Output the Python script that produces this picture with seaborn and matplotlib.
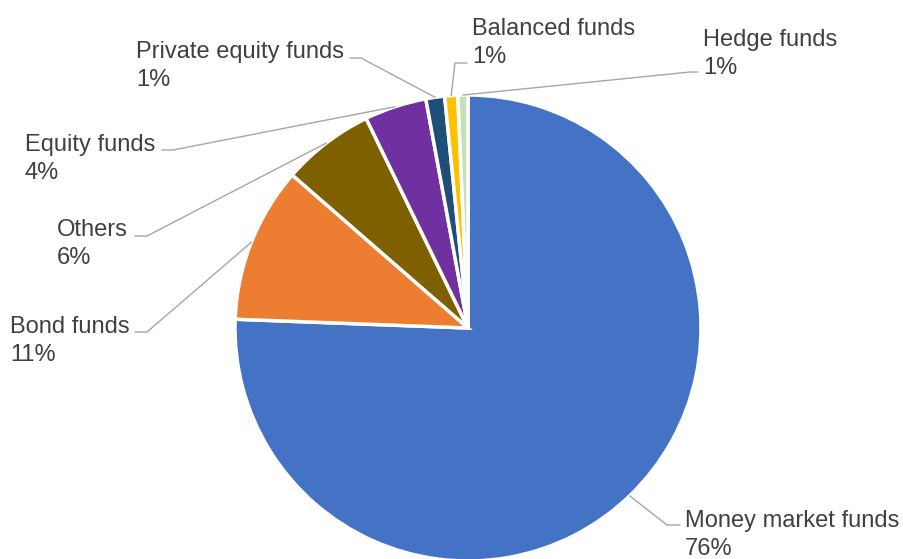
import numpy as np
import matplotlib
matplotlib.use("Agg")
import matplotlib.pyplot as plt
import seaborn as sns

# Fund categories and their share of total assets (%)
categories = ["Money market funds", "Bond funds", "Others", "Equity funds",
              "Private equity funds", "Balanced funds", "Hedge funds"]
shares = [75.6, 10.8, 6.4, 4.3, 1.3, 0.9, 0.7]
colors = ["#4472C4", "#ED7D31", "#7F6000", "#7030A0",
          "#1F4E79", "#FFC000", "#C5E0B4"]

# Label anchor (left x, vertical centre of the two-line block) and leader elbow,
# in pixel coordinates measured from the top-left corner
label_pos = [(685, 535), (10, 341), (57, 244), (25, 159),
             (136, 66), (472, 43), (703, 54)]
elbows = [((680, 525), (667, 525)), ((135, 332), (147, 332)),
          ((135, 236), (147, 236)), ((162, 150), (173, 150)),
          ((350, 58), (361, 58)), ((467, 63), (455, 63)),
          ((698, 72), (690, 72))]

W, H = 904, 559
sns.set_theme(style="white")
plt.rcParams["font.family"] = ["Liberation Sans", "DejaVu Sans"]

fig = plt.figure(figsize=(W / 100, H / 100), dpi=100)
ax = fig.add_axes([0, 0, 1, 1])


def Y(py):
    return H - py


cx, cy, r = 468, Y(328), 233
wedges, _ = ax.pie(shares, colors=colors, startangle=90, counterclock=False,
                   center=(cx, cy), radius=r, frame=True,
                   wedgeprops=dict(edgecolor="white", linewidth=2.5))
ax.set_xlim(0, W)
ax.set_ylim(0, H)
ax.set_aspect("equal")
ax.axis("off")

line_col = "#A6A6A6"
text_col = "#404040"
for w, name, val, (lx, ly), (e1, e2) in zip(wedges, categories, shares,
                                            label_pos, elbows):
    mid = np.deg2rad((w.theta1 + w.theta2) / 2)
    px, py = cx + r * np.cos(mid), cy + r * np.sin(mid)
    ax.plot([e1[0], e2[0], px], [Y(e1[1]), Y(e2[1]), py],
            color=line_col, lw=1.0, zorder=1)
    ax.text(lx, Y(ly), f"{name}\n{val:.0f}%", ha="left", va="center",
            fontsize=17, color=text_col, linespacing=1.36)

fig.savefig("out.png", dpi=100)
